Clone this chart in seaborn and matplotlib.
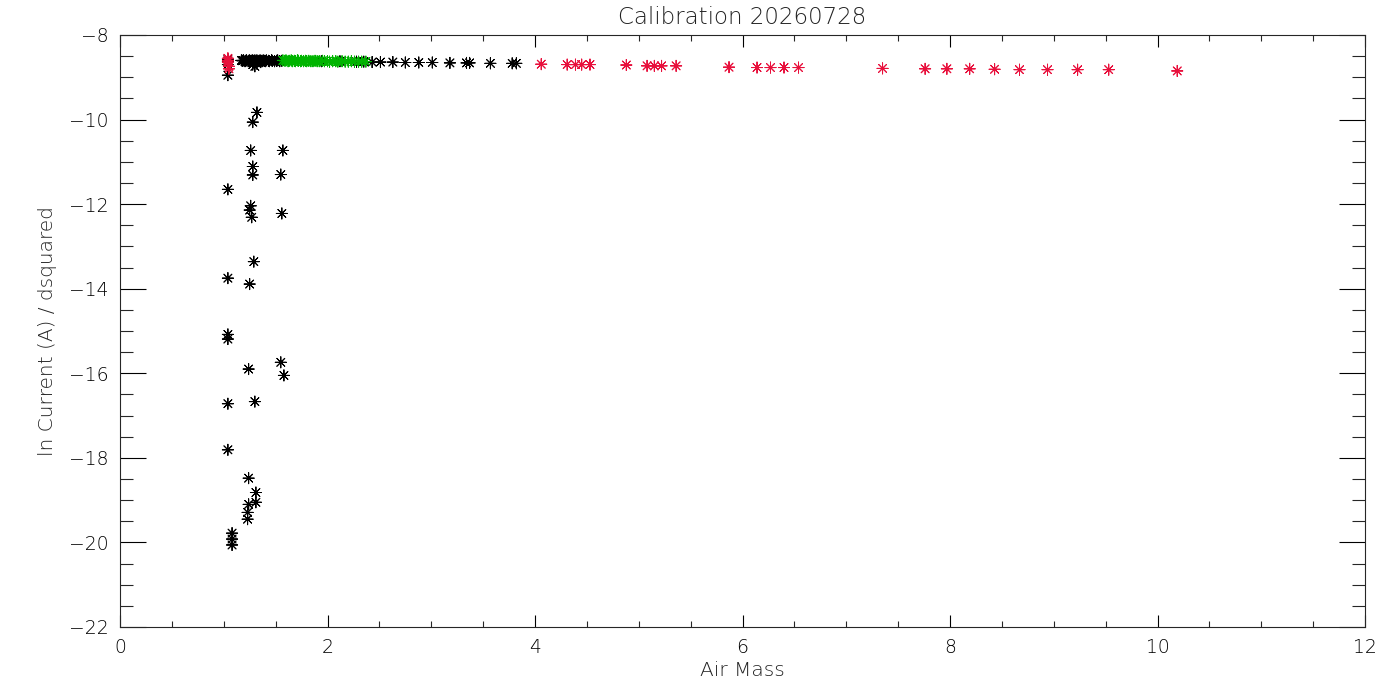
import pandas as pd
import matplotlib
matplotlib.use("Agg")
import matplotlib.pyplot as plt
import seaborn as sns
from matplotlib.ticker import MultipleLocator

# --- data (air mass, ln current / dsquared) ---
black_x = [
    # low-current points
    1.32, 1.28, 1.26, 1.57, 1.28, 1.28, 1.55, 1.04, 1.26, 1.25, 1.27, 1.56,
    1.29, 1.04, 1.25, 1.04, 1.04, 1.55, 1.24, 1.58, 1.04, 1.30, 1.04, 1.24,
    1.31, 1.31, 1.24, 1.23, 1.23, 1.08, 1.08, 1.08,
    # near x=1.04
    1.04, 1.04, 1.04, 1.04,
    # dense band
    1.17, 1.18, 1.19, 1.205, 1.21, 1.22, 1.235, 1.24, 1.25, 1.26, 1.27, 1.275,
    1.28, 1.29, 1.30, 1.31, 1.315, 1.32, 1.33, 1.34, 1.35, 1.36, 1.37, 1.38,
    1.39, 1.40, 1.41, 1.43, 1.44, 1.46, 1.47, 1.49, 1.51, 1.52, 1.54, 1.56,
    1.28, 1.30, 1.32,
    # hidden in green
    1.94, 2.12, 2.28,
    # sparse tail
    2.35, 2.43, 2.51, 2.63, 2.75, 2.88, 3.01, 3.18, 3.34, 3.37, 3.57, 3.78, 3.82,
]
black_y = [
    -9.83, -10.06, -10.73, -10.73, -11.11, -11.31, -11.30, -11.65, -12.04, -12.14, -12.31, -12.22,
    -13.36, -13.75, -13.89, -15.08, -15.19, -15.74, -15.90, -16.05, -16.72, -16.67, -17.81, -18.48,
    -18.82, -19.05, -19.10, -19.29, -19.45, -19.78, -19.92, -20.06,
    -8.57, -8.63, -8.70, -8.95,
    -8.60, -8.61, -8.60, -8.62, -8.61, -8.60, -8.62, -8.61, -8.60, -8.62, -8.61, -8.60,
    -8.62, -8.61, -8.60, -8.62, -8.61, -8.60, -8.62, -8.61, -8.60, -8.61, -8.62, -8.60,
    -8.61, -8.62, -8.60, -8.61, -8.62, -8.60, -8.61, -8.62, -8.61, -8.60, -8.62, -8.61,
    -8.70, -8.74, -8.68,
    -8.62, -8.62, -8.63,
    -8.63, -8.64, -8.64, -8.64, -8.65, -8.65, -8.65, -8.66, -8.66, -8.66, -8.67, -8.67, -8.67,
]

green_x = [
    1.57, 1.59, 1.60, 1.62, 1.63, 1.65, 1.66, 1.68, 1.69, 1.71, 1.72, 1.74,
    1.75, 1.77, 1.79, 1.80, 1.82, 1.84, 1.86, 1.88, 1.90, 1.92, 1.95, 1.97,
    2.00, 2.02, 2.05, 2.08, 2.10, 2.14, 2.17, 2.20, 2.23, 2.26, 2.30, 2.33, 2.37,
]
green_y = [
    -8.60, -8.61, -8.60, -8.62, -8.61, -8.60, -8.62, -8.61, -8.62, -8.60, -8.61, -8.62,
    -8.61, -8.62, -8.61, -8.62, -8.61, -8.62, -8.62, -8.61, -8.62, -8.62, -8.61, -8.62,
    -8.62, -8.63, -8.62, -8.62, -8.63, -8.62, -8.63, -8.63, -8.62, -8.63, -8.63, -8.63, -8.63,
]

red_x = [
    1.04, 1.04, 1.04, 1.05, 1.05,
    4.06, 4.31, 4.39, 4.45, 4.53, 4.88, 5.08, 5.15, 5.22, 5.36, 5.87,
    6.14, 6.27, 6.40, 6.54, 7.35, 7.76, 7.97, 8.19, 8.43, 8.67, 8.94,
    9.23, 9.53, 10.19,
]
red_y = [
    -8.55, -8.60, -8.64, -8.74, -8.80,
    -8.69, -8.70, -8.70, -8.70, -8.70, -8.71, -8.73, -8.73, -8.73, -8.73, -8.76,
    -8.77, -8.77, -8.77, -8.77, -8.79, -8.80, -8.80, -8.80, -8.81, -8.82, -8.82,
    -8.82, -8.82, -8.85,
]

title = "Calibration 20260728"
x_label = "Air Mass"
y_label = "ln Current (A) / dsquared"

colors = {"black": "#000000", "green": "#00B400", "red": "#E8103C"}
text_color = "#000000"

df = pd.concat([
    pd.DataFrame({"airmass": black_x, "lnI": black_y, "grp": "black"}),
    pd.DataFrame({"airmass": green_x, "lnI": green_y, "grp": "green"}),
    pd.DataFrame({"airmass": red_x, "lnI": red_y, "grp": "red"}),
], ignore_index=True)

sns.set_style("ticks")
plt.rcParams["font.family"] = ["DejaVu Sans"]
plt.rcParams["font.weight"] = "light"

fig = plt.figure(figsize=(14, 7), dpi=100)
ax = fig.add_axes([120 / 1400, 73 / 700, 1245 / 1400, 592 / 700])

sns.scatterplot(data=df, x="airmass", y="lnI", hue="grp", palette=colors,
                marker=(8, 2, 0), s=64, linewidth=0.7, legend=False, ax=ax)

ax.set_xlim(0, 12)
ax.set_ylim(-22, -8)
ax.xaxis.set_major_locator(MultipleLocator(2))
ax.xaxis.set_minor_locator(MultipleLocator(0.5))
ax.yaxis.set_major_locator(MultipleLocator(2))
ax.yaxis.set_minor_locator(MultipleLocator(0.5))

ax.tick_params(axis="x", which="major", direction="in", length=8.6, width=0.8,
               top=True, bottom=True, labelsize=13.5, pad=8, colors=text_color)
ax.tick_params(axis="x", which="minor", direction="in", length=4.3, width=0.8,
               top=True, bottom=True)
ax.tick_params(axis="y", which="major", direction="in", length=18.5, width=0.8,
               left=True, right=True, labelsize=13.5, pad=8, colors=text_color)
ax.tick_params(axis="y", which="minor", direction="in", length=9.3, width=0.8,
               left=True, right=True)
for sp in ax.spines.values():
    sp.set_linewidth(0.8)
    sp.set_visible(True)

ax.set_title(title, fontsize=16.5, color="#222222", pad=8, fontweight="light")
ax.set_xlabel(x_label, fontsize=14.5, color="#222222", labelpad=3, fontweight="light")
ax.set_ylabel(y_label, fontsize=14.5, color="#222222", labelpad=9, fontweight="light")

fig.savefig("out.png", dpi=100)
